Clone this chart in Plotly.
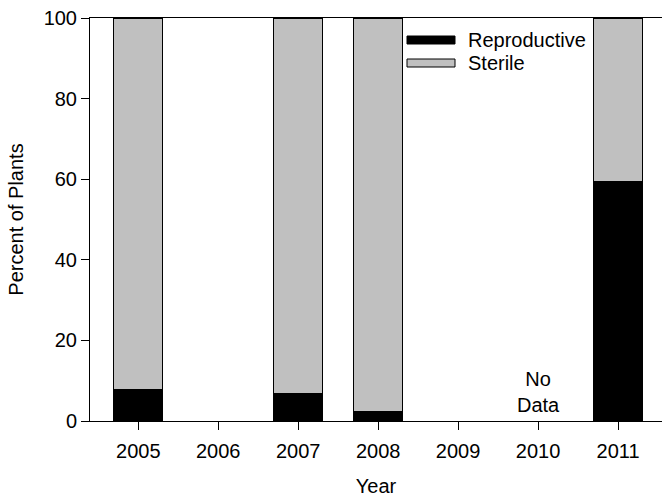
import plotly.graph_objects as go

years = [2005, 2006, 2007, 2008, 2009, 2010, 2011]
bar_years = [2005, 2007, 2008, 2011]
reproductive = [7.9, 6.8, 2.4, 59.4]
sterile = [100 - v for v in reproductive]
series_names = ["Reproductive", "Sterile"]
series_colors = ["#000000", "#c0c0c0"]
note_year = 2010
note_text = "No<br>Data"

W, H = 663, 497
ml, mr, mt, mb = 90, 1, 18, 76
font = "Liberation Sans, Arial, sans-serif"
FS = 20

pw, ph = W - ml - mr, H - mt - mb
def px_x(x):  # page px -> paper
    return (x - ml) / pw
def px_y(y):
    return (H - mb - y) / ph

fig = go.Figure()
for name, vals, col in zip(series_names, [reproductive, sterile], series_colors):
    fig.add_trace(go.Bar(x=bar_years, y=vals, name=name, width=0.61,
                         marker=dict(color=col, line=dict(color="black", width=1)),
                         showlegend=False))

# custom legend (wide swatches like the reference)
leg_y = [40, 63]
for i, (name, col) in enumerate(zip(series_names, series_colors)):
    y = leg_y[i]
    fig.add_shape(type="rect", xref="paper", yref="paper",
                  x0=px_x(407), x1=px_x(455), y0=px_y(y + 4), y1=px_y(y - 4),
                  fillcolor=col, line=dict(color="black", width=1))
    fig.add_annotation(xref="paper", yref="paper", x=px_x(466), y=px_y(y),
                       text=name, showarrow=False, xanchor="left", yanchor="middle",
                       font=dict(family=font, size=FS, color="black"))

fig.add_annotation(x=note_year, y=0.8, text=note_text, showarrow=False,
                   yanchor="bottom", font=dict(family=font, size=FS, color="black"))

fig.update_layout(
    width=W, height=H, margin=dict(l=ml, r=mr, t=mt, b=mb),
    paper_bgcolor="white", plot_bgcolor="white", barmode="stack",
    font=dict(family=font, size=FS, color="black"),
    xaxis=dict(range=[2004.396, 2011.55], tickvals=years, ticktext=[str(y) for y in years],
               ticks="outside", ticklen=8, tickcolor="black", showline=True, linecolor="black",
               linewidth=1, mirror=True, showgrid=False, zeroline=False,
               tickfont=dict(size=FS), ticklabelstandoff=4,
               title=dict(text="Year", font=dict(size=FS), standoff=21)),
    yaxis=dict(range=[0, 100], tickvals=[0, 20, 40, 60, 80, 100],
               ticks="outside", ticklen=8, tickcolor="black", showline=True, linecolor="black",
               linewidth=1, showgrid=False, zeroline=False,
               tickfont=dict(size=FS), ticklabeloverflow="allow",
               title=dict(text="Percent of Plants", font=dict(size=FS), standoff=14)),
)
fig.write_html("out.html", config={"displayModeBar": False},
               post_script="document.body.style.margin='0';")
